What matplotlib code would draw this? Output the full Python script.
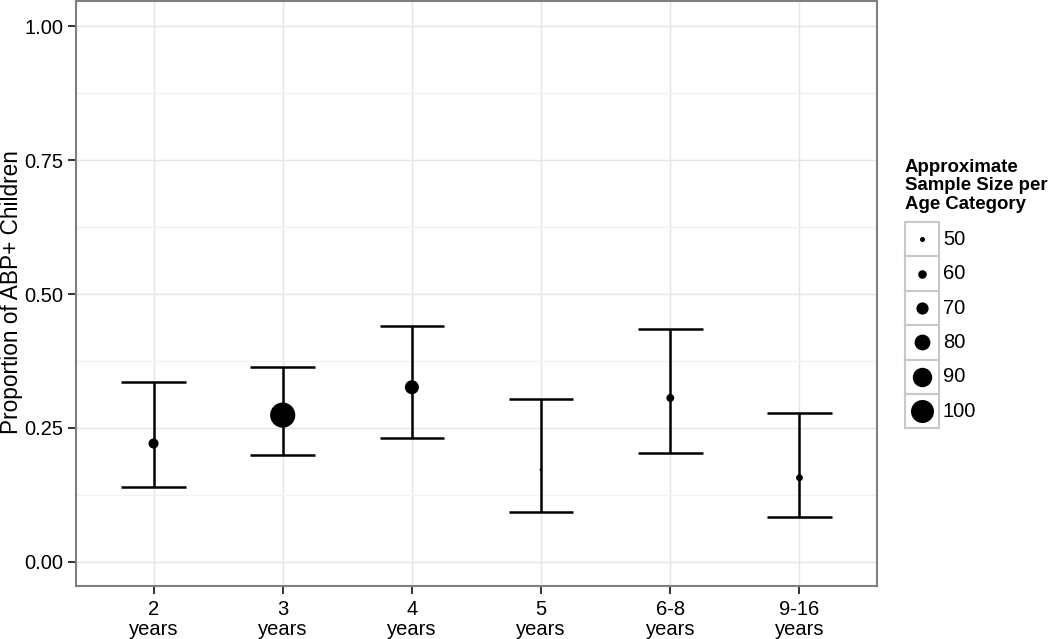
import matplotlib.pyplot as plt
import numpy as np

plt.rcParams['font.family'] = ['Liberation Sans', 'DejaVu Sans']

ages = ['2\nyears', '3\nyears', '4\nyears', '5\nyears', '6-8\nyears', '9-16\nyears']
prop = [0.221, 0.274, 0.326, 0.172, 0.306, 0.157]
lower = [0.139, 0.199, 0.232, 0.093, 0.203, 0.084]
upper = [0.336, 0.364, 0.440, 0.304, 0.435, 0.278]
n = [64, 106, 75, 44, 58, 55]

legend_n = [50, 60, 70, 80, 90, 100]

def marker_area(v):
    # diameter in px grows linearly with n, convert to pt^2 for scatter
    d = 5 + 0.36 * (np.asarray(v, dtype=float) - 50)
    d = np.clip(d, 3, None)
    return (d * 0.72) ** 2

fig = plt.figure(figsize=(10.5, 6.39), dpi=100)
ax = fig.add_axes([76/1050, 1 - 586/639, (877 - 76)/1050, 585/639])

x = np.arange(1, len(ages) + 1)
lw = 1.8
ax.vlines(x, lower, upper, color='black', lw=lw, zorder=3)
ax.hlines(lower, x - 0.25, x + 0.25, color='black', lw=lw, zorder=3)
ax.hlines(upper, x - 0.25, x + 0.25, color='black', lw=lw, zorder=3)
ax.scatter(x, prop, s=marker_area(n), color='black', edgecolors='none', zorder=4)

ax.set_xlim(0.4, 6.6)
ax.set_ylim(-0.045, 1.047)
ax.set_xticks(x)
ax.set_xticklabels(ages, fontsize=14.5, linespacing=1.05)
ax.set_yticks([0, 0.25, 0.5, 0.75, 1.0])
ax.set_yticklabels(['0.00', '0.25', '0.50', '0.75', '1.00'], fontsize=14.5)
ax.set_yticks([0.125, 0.375, 0.625, 0.875], minor=True)
ax.tick_params(axis='y', which='minor', length=0)
ax.tick_params(which='major', length=6, width=1.4, color='#333333', labelcolor='black')
ax.tick_params(axis='x', pad=4)
ax.tick_params(axis='y', pad=3)
ax.grid(True, which='major', color='#E5E5E5', lw=1.0)
ax.grid(True, which='minor', axis='y', color='#F2F2F2', lw=1.0)
ax.set_axisbelow(True)
for sp in ax.spines.values():
    sp.set_color('#7F7F7F')
    sp.set_linewidth(1.5)

# y label placed in figure pixels so it stays inside the canvas
fig.text(12/1050, 1 - 292/639, 'Proportion of ABP+ Children', fontsize=16.3,
         rotation=90, ha='center', va='center')

# size legend drawn in figure pixel coordinates
fig.text(905/1050, 1 - 159/639, 'Approximate\nSample Size per\nAge Category',
         fontsize=13.4, fontweight='bold', va='top', ha='left', linespacing=1.1)
key_top = 222
key_h = 34.4
key_left = 905
key_w = 34
for i, v in enumerate(legend_n):
    y0 = key_top + i * key_h
    rect = plt.Rectangle((key_left/1050, 1 - (y0 + key_h)/639), key_w/1050, key_h/639,
                         transform=fig.transFigure, facecolor='white',
                         edgecolor='#C8C8C8', lw=1.5)
    fig.add_artist(rect)
    fig.add_artist(plt.Line2D([(key_left + key_w/2)/1050], [1 - (y0 + key_h/2)/639],
                              transform=fig.transFigure, marker='o', ls='none',
                              markersize=np.sqrt(marker_area(v)), color='black',
                              markeredgewidth=0))
    fig.text((key_left + key_w + 4)/1050, 1 - (y0 + key_h/2)/639, str(v),
             fontsize=14.5, va='center', ha='left')

fig.savefig('out.png', dpi=100, facecolor='white')
